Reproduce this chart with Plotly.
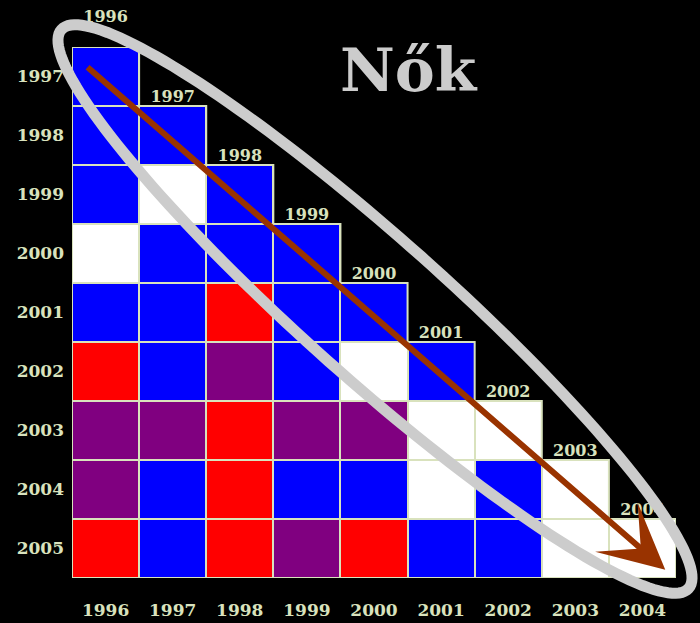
import numpy as np
import plotly.graph_objects as go

# ---- data ----
col_years = [1996, 1997, 1998, 1999, 2000, 2001, 2002, 2003, 2004]
row_years = [1997, 1998, 1999, 2000, 2001, 2002, 2003, 2004, 2005]
# W = white, B = blue, P = purple, R = red  (lower triangle, row by row)
cell_rows = [
    "B",
    "BB",
    "BWB",
    "WBBB",
    "BBRBB",
    "RBPBWB",
    "PPRPPWW",
    "PBRBBWBW",
    "RBRPRBBWW",
]
title_text = "Nők"

code = {"W": 0, "B": 1, "P": 2, "R": 3}
n = len(col_years)
z = []
base = []
for r in range(n):
    row = [None] * n
    brow = [None] * n
    for c, ch in enumerate(cell_rows[r]):
        row[c] = code[ch]
        brow[c] = 1
    z.append(row)
    base.append(brow)

cream = "#d9e2bd"
label_font = dict(family="DejaVu Serif", size=17, color=cream, weight="bold")
diag_font = dict(family="DejaVu Serif", size=16, color=cream, weight="bold")

colorscale = [
    [0.0, "#ffffff"], [0.17, "#ffffff"],
    [0.17, "#0000ff"], [0.5, "#0000ff"],
    [0.5, "#800080"], [0.83, "#800080"],
    [0.83, "#ff0000"], [1.0, "#ff0000"],
]

fig = go.Figure()
# cream layer under the cells -> grid lines
fig.add_trace(go.Heatmap(
    x=list(range(n)), y=list(range(n)), z=base,
    colorscale=[[0, cream], [1, cream]], showscale=False, hoverinfo="skip",
))
fig.add_trace(go.Heatmap(
    x=list(range(n)), y=list(range(n)), z=z,
    zmin=0, zmax=3, colorscale=colorscale, showscale=False,
    xgap=2, ygap=2, hoverinfo="skip",
))

# staircase outline
ox, oy = [-0.5], [-0.5]
for r in range(n):
    ox += [r + 0.5, r + 0.5]
    oy += [r - 0.5, r + 0.5]
ox += [-0.5, -0.5]
oy += [n - 0.5, -0.5]
fig.add_trace(go.Scatter(x=ox, y=oy, mode="lines",
                         line=dict(color=cream, width=2),
                         hoverinfo="skip", showlegend=False))

# diagonal labels (first one sits one line higher, as in the original)
dx = list(range(n))
dy = [r - 0.5 for r in range(n)]
dtext = [str(y) for y in col_years]
dtext[0] = dtext[0] + "<br>\u00a0"
fig.add_trace(go.Scatter(
    x=dx, y=dy, mode="text", text=dtext,
    textposition="top center", textfont=diag_font,
    cliponaxis=False, hoverinfo="skip", showlegend=False,
))

# layout geometry (pixels)
W, H = 700, 623
ml, mr, mt, mb = 72, 24, 47, 45
pw, ph = W - ml - mr, H - mt - mb

def to_paper(px, py):
    return (px - ml) / pw, 1 - (py - mt) / ph

# ellipse (pixel space)
cx, cy, a, b, ang = 375, 309, 420, 70, np.deg2rad(41.7)
t = np.linspace(0, 2 * np.pi, 181)
ex = cx + a * np.cos(t) * np.cos(ang) - b * np.sin(t) * np.sin(ang)
ey = cy + a * np.cos(t) * np.sin(ang) + b * np.sin(t) * np.cos(ang)
pts = [to_paper(px, py) for px, py in zip(ex, ey)]
path = "M " + " L ".join(f"{x:.5f},{y:.5f}" for x, y in pts) + " Z"
fig.add_shape(type="path", path=path, xref="paper", yref="paper",
              line=dict(color="#cccccc", width=11), layer="above")

# arrow
fig.add_annotation(x=8.34, y=8.36, ax=-0.29, ay=-0.18,
                   xref="x", yref="y", axref="x", ayref="y",
                   text="", showarrow=True, arrowhead=3, arrowsize=1.8,
                   arrowwidth=6, arrowcolor="#993300")

# title
fig.add_annotation(x=to_paper(409, 0)[0], y=to_paper(0, 70)[1],
                   xref="paper", yref="paper", text=title_text, showarrow=False,
                   font=dict(family="DejaVu Serif", size=60, color="#cccccc",
                             weight="bold"),
                   xanchor="center", yanchor="middle")

fig.update_xaxes(range=[-0.5, n - 0.5], tickvals=list(range(n)),
                 ticktext=[str(y) for y in col_years], showgrid=False,
                 zeroline=False, showline=False, ticks="", automargin=False,
                 ticklabelstandoff=20, tickfont=label_font, fixedrange=True)
fig.update_yaxes(range=[n - 0.5, -0.5], tickvals=list(range(n)),
                 ticktext=[str(y) for y in row_years], showgrid=False,
                 zeroline=False, showline=False, ticks="", automargin=False,
                 ticklabelstandoff=7, tickfont=label_font, fixedrange=True)

fig.update_layout(width=W, height=H, margin=dict(l=ml, r=mr, t=mt, b=mb),
                  paper_bgcolor="black", plot_bgcolor="black",
                  showlegend=False)

fig.write_html(
    "out.html",
    config={"displayModeBar": False},
    post_script="document.body.style.margin='0';"
                "document.body.style.background='black';",
)
